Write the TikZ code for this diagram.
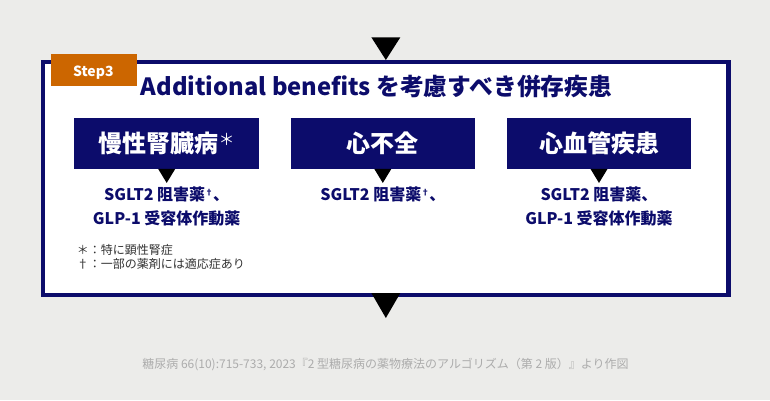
\documentclass[tikz,border=0pt]{standalone}
\usepackage{fontspec}
\setmainfont{Noto Sans CJK JP}
\usetikzlibrary{calc}
\definecolor{navy}{RGB}{12,12,107}
\definecolor{bg}{RGB}{236,236,234}
\definecolor{stepc}{RGB}{204,102,0}
\definecolor{srcgray}{RGB}{172,172,172}
\definecolor{notegray}{RGB}{51,51,51}
\newcommand{\dgr}{\raisebox{5pt}{\fontsize{8}{8}\selectfont †}}
\newcommand{\bigast}{\raisebox{7pt}{\mdseries\fontsize{16}{16}\selectfont ＊}}
\begin{document}
\begin{tikzpicture}[x=1pt,y=-1pt,
  framebox/.style={draw=navy,line width=4.5pt,fill=white,inner sep=0pt,outer sep=0pt,
    minimum width=685.3pt,minimum height=233.2pt},
  catbox/.style={fill=navy,text=white,inner sep=0pt,outer sep=0pt,
    minimum width=184.5pt,minimum height=50.5pt,font=\bfseries\fontsize{24}{28}\selectfont},
  steptag/.style={fill=stepc,inner sep=0pt,outer sep=0pt,minimum width=86pt,minimum height=32pt},
  steptext/.style={text=white,font=\bfseries\fontsize{14}{16}\selectfont,anchor=base},
  titletext/.style={text=navy,font=\bfseries\fontsize{23.75}{28}\selectfont,anchor=base},
  drugtext/.style={text=navy,font=\bfseries\fontsize{16}{20}\selectfont,anchor=base},
  notetext/.style={text=notegray,font=\fontsize{12}{14}\selectfont,anchor=base west,inner sep=0pt},
  srctext/.style={text=srcgray,font=\fontsize{12}{14}\selectfont,anchor=base},
  pointer/.style={fill=black},
]
\useasboundingbox[fill=bg] (0,0) rectangle (770,400);
% frame
\node[framebox] (frame) at (385.85,178.4) {};
% step tag
\node[steptag] (tag) at (93.7,70) {};
\node[steptext] (tagtext) at (93.3,76.3) {Step3};
% title
\node[titletext] (title) at (376.5,95.7) {Additional benefits を考慮すべき併存疾患};
% category boxes
\node[catbox] (b1) at (166.7,143.7) {慢性腎臓病\bigast};
\node[catbox] (b2) at (382.8,143.7) {心不全};
\node[catbox] (b3) at (599,143.7) {心血管疾患};
% small pointers
\foreach \b in {b1,b2,b3}{
  \fill[pointer] ($(\b.south)+(-8.5,0)$) -- ($(\b.south)+(8.5,0)$) -- ($(\b.south)+(0,14)$) -- cycle;
}
% drug texts
\node[drugtext] (d1a) at (166.7,200.7) {SGLT2 阻害薬\dgr 、};
\node[drugtext] (d1b) at (166.7,224) {GLP-1 受容体作動薬};
\node[drugtext] (d2a) at (382.8,200.7) {SGLT2 阻害薬\dgr 、};
\node[drugtext] (d3a) at (599,200.7) {SGLT2 阻害薬、};
\node[drugtext] (d3b) at (599,224) {GLP-1 受容体作動薬};
% notes
\node[notetext] (n1) at (76.7,254.6) {＊：特に顕性腎症};
\node[notetext] (n2) at (76.7,268) {†：一部の薬剤には適応症あり};
% big pointers
\fill[pointer] ($(frame.north)+(-14.5,-24.5)$) -- ($(frame.north)+(14.5,-24.5)$) -- ($(frame.north)+(0,-1.8)$) -- cycle;
\fill[pointer] ($(frame.south)+(-14.5,-2)$) -- ($(frame.south)+(14.5,-2)$) -- ($(frame.south)+(0,23)$) -- cycle;
% source
\node[srctext] (src) at (385.5,368.8) {糖尿病 66(10):715-733, 2023『2 型糖尿病の薬物療法のアルゴリズム（第 2 版）』より作図};
\end{tikzpicture}
\end{document}
